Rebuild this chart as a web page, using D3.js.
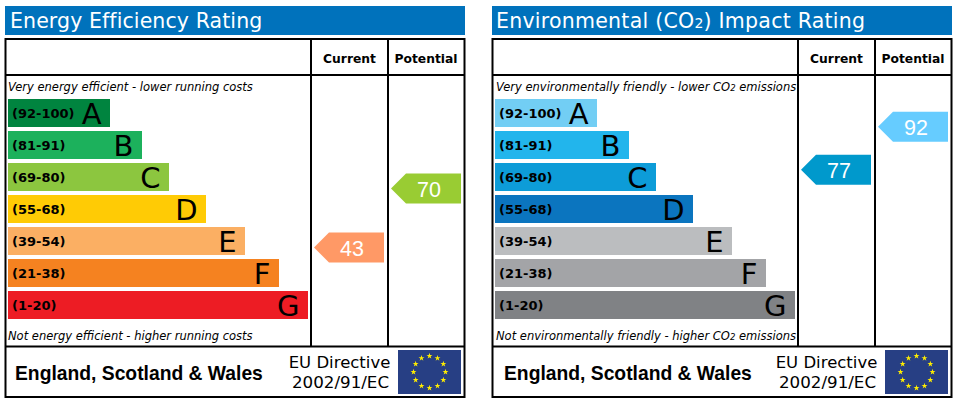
<!DOCTYPE html>
<html>

<head>
  <meta charset="UTF-8">
  <title>Energy and environmental ratings</title>
  <script src="https://d3js.org/d3.v7.min.js"></script>
  <style>
    html, body {
      margin: 0;
      background: #fff;
    }

    svg {
      display: block;
    }

    text {
      font-family: "DejaVu Sans", sans-serif;
    }
  </style>
</head>

<body>
  <svg></svg>

  <script>
    const width = 957,
      height = 404;

    const letters = ["A", "B", "C", "D", "E", "F", "G"];
    const ranges = ["(92-100)", "(81-91)", "(69-80)", "(55-68)", "(39-54)", "(21-38)", "(1-20)"];
    // upper and lower limits of the bands, used to place the arrows
    const bandLimits = [100.5, 91.5, 80.5, 68.5, 54.5, 38.5, 20.5, 0.5];
    // bar length in the picture, same for both charts
    const barLengths = [102, 134, 161, 198, 237, 271, 300];

    const energyColors = ["#00843f", "#1cb15c", "#8cc63f", "#ffcb05", "#fbaf63", "#f58220", "#ed1c24"];
    const envColors = ["#72cef4", "#22b5ec", "#0d9cd8", "#0b75bf", "#bbbdbf", "#a3a4a7", "#808285"];

    const energyScores = [43, 70];
    const envScores = [77, 92];
    const energyArrowColors = ["#ff9966", "#99cc33"];
    const envArrowColors = ["#0099cc", "#66ccff"];
    const columns = ["Current", "Potential"];

    let svg = d3.select("svg")
      .attr("width", width)
      .attr("height", height)
      .attr("viewBox", "0 0 " + width + " " + height);

    let x = d3.scaleLinear().domain([0, 300]).range([8, 308]);

    let y = d3.scaleBand()
      .domain(letters)
      .range([99, 319])
      .paddingInner(0.125)
      .paddingOuter(0);

    // arrow centre inside the band its score falls in
    let scoreY = d3.scaleLinear()
      .domain(bandLimits)
      .range(bandLimits.map((d, i) => 96.5 + i * y.step()));

    // writes text with a small "2" after CO
    function co2Text(sel, str, smallSize) {
      str.split("CO2").forEach((part, i) => {
        if (i > 0) {
          sel.append("tspan").text("CO");
          sel.append("tspan").attr("font-size", smallSize).text("2");
        }
        sel.append("tspan").text(part);
      });
    }

    function drawPanel(offset, title, topText, bottomText, colors, scores, arrowColors, shift) {
      let g = svg.append("g").attr("transform", "translate(" + offset + ",0)");

      g.append("rect")
        .attr("x", 5).attr("y", 6)
        .attr("width", 460).attr("height", 29)
        .attr("fill", "#0072bc");

      g.append("text")
        .attr("x", 10 + shift.title).attr("y", 28)
        .attr("font-size", 20.5)
        .attr("letter-spacing", shift.spacing)
        .attr("fill", "#fff")
        .call(co2Text, title, 14);

      // table frame
      g.append("rect")
        .attr("x", 5.5).attr("y", 39)
        .attr("width", 459).attr("height", 358)
        .attr("fill", "none")
        .attr("stroke", "#000")
        .attr("stroke-width", 2);

      let lines = [[5, 75, 465, 75], [5, 346.5, 465, 346.5], [311, 39, 311, 346], [388, 39, 388, 346]];
      g.selectAll("line")
        .data(lines)
        .enter()
        .append("line")
        .attr("x1", d => d[0]).attr("y1", d => d[1])
        .attr("x2", d => d[2]).attr("y2", d => d[3])
        .attr("stroke", "#000")
        .attr("stroke-width", 2);

      g.selectAll(".col")
        .data(columns)
        .enter()
        .append("text")
        .attr("class", "col")
        .attr("x", (d, i) => i == 0 ? 349.5 : 426)
        .attr("y", 63)
        .attr("text-anchor", "middle")
        .attr("font-size", 12.3)
        .attr("font-weight", "bold")
        .text(d => d);

      g.append("text")
        .attr("x", 8 + shift.note).attr("y", 91)
        .attr("font-size", 11.5)
        .attr("font-style", "italic")
        .call(co2Text, topText, 8.5);

      g.append("text")
        .attr("x", 8 + shift.note).attr("y", 340)
        .attr("font-size", 11.5)
        .attr("font-style", "italic")
        .call(co2Text, bottomText, 8.5);

      // rating bars
      let bars = g.selectAll(".bar")
        .data(letters)
        .enter()
        .append("g")
        .attr("class", "bar");

      bars.append("rect")
        .attr("x", x(0))
        .attr("y", d => y(d))
        .attr("width", (d, i) => x(barLengths[i]) - x(0))
        .attr("height", y.bandwidth())
        .attr("fill", (d, i) => colors[i]);

      bars.append("text")
        .attr("x", 12)
        .attr("y", d => y(d) + 19)
        .attr("font-size", 13)
        .attr("font-weight", "bold")
        .text((d, i) => ranges[i]);

      bars.append("text")
        .attr("x", (d, i) => x(barLengths[i]) - 8.5)
        .attr("y", d => y(d) + 25)
        .attr("text-anchor", "end")
        .attr("font-size", 29)
        .text(d => d);

      // score arrows
      let arrows = g.selectAll(".arrow")
        .data(scores)
        .enter()
        .append("g")
        .attr("class", "arrow")
        .attr("transform", (d, i) => "translate(" + (i == 0 ? 384 : 461) + "," + scoreY(d) + ")");

      arrows.append("path")
        .attr("d", d3.line()([[0, -15], [-55, -15], [-70, 0], [-55, 15], [0, 15]]) + "Z")
        .attr("fill", (d, i) => arrowColors[i]);

      arrows.append("text")
        .attr("x", -32)
        .attr("y", 8)
        .attr("text-anchor", "middle")
        .attr("font-size", 21.5)
        .attr("fill", "#fff")
        .style("font-family", "'Liberation Sans'")
        .text(d => d);

      // footer
      g.append("text")
        .attr("x", 15 + shift.footer).attr("y", 380)
        .style("font-family", "'Liberation Sans'")
        .attr("font-weight", "bold")
        .attr("font-size", 19.3)
        .text("England, Scotland & Wales");

      g.append("text")
        .attr("x", 339.5).attr("y", 368)
        .attr("text-anchor", "middle")
        .attr("font-size", 16.5)
        .text("EU Directive");

      g.append("text")
        .attr("x", 340.5).attr("y", 388)
        .attr("text-anchor", "middle")
        .attr("font-size", 16.7)
        .text("2002/91/EC");

      // EU flag
      g.append("rect")
        .attr("x", 398).attr("y", 350)
        .attr("width", 63).attr("height", 44)
        .attr("fill", "#273f84");

      g.selectAll(".star")
        .data(d3.range(12))
        .enter()
        .append("path")
        .attr("class", "star")
        .attr("d", d3.symbol(d3.symbolStar, 11))
        .attr("fill", "#ffed00")
        .attr("transform", d => {
          let a = d / 12 * 2 * Math.PI;
          return "translate(" + (429.5 + 16 * Math.sin(a)) + "," + (372 - 16 * Math.cos(a)) + ")";
        });
    }

    drawPanel(0, "Energy Efficiency Rating",
      "Very energy efficient - lower running costs",
      "Not energy efficient - higher running costs",
      energyColors, energyScores, energyArrowColors,
      { title: 0, spacing: 0.1, note: 0, footer: 0 });

    drawPanel(487, "Environmental (CO2) Impact Rating",
      "Very environmentally friendly - lower CO2 emissions",
      "Not environmentally friendly - higher CO2 emissions",
      envColors, envScores, envArrowColors,
      { title: -1, spacing: 0.25, note: 1, footer: 2 });
  </script>

</body>

</html>
